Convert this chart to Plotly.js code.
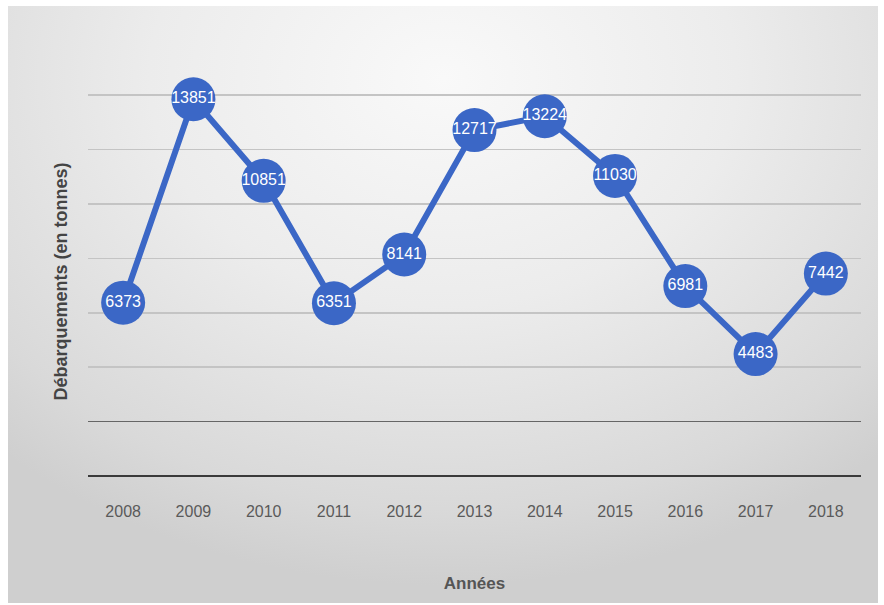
<!DOCTYPE html>
<html>
<head>
<meta charset="utf-8">
<script src="https://cdn.plot.ly/plotly-3.0.1.min.js"></script>
<style>
  html, body { margin: 0; padding: 0; background: #ffffff; }
  #frame { position: absolute; left: 8px; top: 6px; width: 870px; height: 597px;
    background: radial-gradient(ellipse 75% 85% at 50% 12%, #f9f9f9 0%, #ececec 45%, #d9d9d9 85%, #cfcfcf 100%); }
  #chart { position: absolute; left: 0; top: 0; width: 884px; height: 605px; }
</style>
</head>
<body>
<div id="frame"></div>
<div id="chart"></div>
<script>
const years = ['2008','2009','2010','2011','2012','2013','2014','2015','2016','2017','2018'];
const landings = [6373, 13851, 10851, 6351, 8141, 12717, 13224, 11030, 6981, 4483, 7442];
const labels = landings.map(v => String(v));

const blue = '#3b67c6';
const fontFam = '"Liberation Sans Narrow", "Liberation Sans", Arial, sans-serif';

const trace = {
  x: years, y: landings, type: 'scatter', mode: 'lines+markers+text',
  text: labels, textposition: 'middle center',
  textfont: { color: '#ffffff', size: 16, family: '"Liberation Sans", Arial, sans-serif' },
  line: { color: blue, width: 6 },
  marker: { color: blue, size: 44, line: { color: blue, width: 0 } },
  cliponaxis: false, hoverinfo: 'skip', showlegend: false
};
const darkGrid = {
  x: years, y: landings, type: 'scatter', mode: 'none', yaxis: 'y2',
  hoverinfo: 'skip', showlegend: false
};

const layout = {
  width: 884, height: 605,
  margin: { l: 88, r: 23, t: 87, b: 129 },
  paper_bgcolor: 'rgba(0,0,0,0)', plot_bgcolor: 'rgba(0,0,0,0)',
  xaxis: {
    type: 'category', range: [-0.5, 10.5], autorange: false,
    showgrid: false, showline: false, zeroline: false,
    ticks: '', ticklabelstandoff: 24,
    tickfont: { family: fontFam, size: 16, color: '#5a5a5a' },
    title: { text: 'Années', standoff: 58, font: { family: '"Liberation Sans", Arial, sans-serif', size: 17, color: '#555555', weight: 'bold' } }
  },
  yaxis: {
    range: [0, 14300], autorange: false, tickvals: [4000, 6000, 8000, 10000, 12000, 14000], showticklabels: false, ticks: '',
    showgrid: true, gridcolor: '#c4c4c4', gridwidth: 1.5,
    zeroline: true, zerolinecolor: '#3a3a3a', zerolinewidth: 2.5,
    showline: false,
    title: { text: 'Débarquements (en tonnes)', standoff: 14, font: { family: '"Liberation Sans", Arial, sans-serif', size: 18, color: '#444444', weight: 'bold' } }
  },
  yaxis2: {
    overlaying: 'y', range: [0, 14300], autorange: false, tickvals: [2000], showticklabels: false, ticks: '',
    showgrid: true, gridcolor: '#666666', gridwidth: 1.5, zeroline: false, showline: false
  }
};

Plotly.newPlot('chart', [darkGrid, trace], layout, { displayModeBar: false, staticPlot: true });
</script>
</body>
</html>
